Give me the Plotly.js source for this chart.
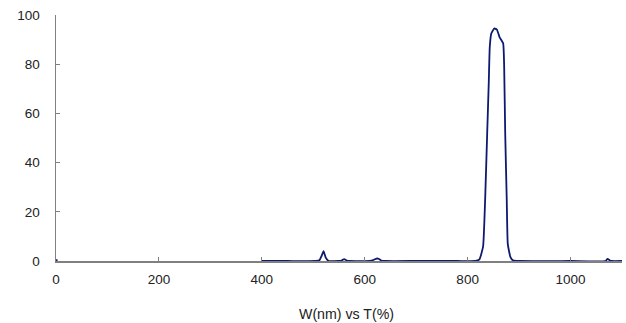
<!DOCTYPE html>
<html>
<head>
<meta charset="utf-8">
<script src="https://cdn.plot.ly/plotly-3.0.1.min.js"></script>
<style>html,body{margin:0;padding:0;background:#fff;}#chart{width:626px;height:323px;}</style>
</head>
<body>
<div id="chart"></div>
<script>
// Wavelength (nm) and transmission (%)
const wavelength = [0, 3, null,
  400, 450, 505, 512, 516, 520, 524, 530, 550, 556, 560, 564, 570, 610, 618, 623, 628, 632, 640,
  700, 780, 815, 823, 830, 834, 838, 841, 843, 846, 852, 857, 862, 869, 871, 873, 876, 878, 883, 888,
  900, 1000, 1068, 1072, 1076, 1080, 1100];
const transmission = [0.3, 0.3, null,
  0, 0, 0, 0.3, 2, 4, 1.5, 0, 0, 0.3, 0.8, 0.3, 0, 0, 0.5, 1, 0.8, 0.2, 0,
  0, 0, 0, 0.7, 5.8, 24.8, 51.9, 72, 87, 92.5, 94.6, 94, 91, 88.5, 79, 52, 25, 7, 1.7, 0.3,
  0, 0, 0, 0.9, 0.3, 0, 0];
const xTicks = [0, 200, 400, 600, 800, 1000];
const yTicks = [0, 20, 40, 60, 80, 100];
const xLabel = "W(nm) vs T(%)";

const trace = {
  x: wavelength, y: transmission, type: 'scatter', mode: 'lines',
  connectgaps: false,
  line: {color: '#0d1a6e', width: 1.8, shape: 'spline', smoothing: 0.4},
  hoverinfo: 'skip'
};

const axisCommon = {
  showgrid: false, zeroline: false, showline: true,
  linecolor: '#808080', linewidth: 1.5,
  ticks: 'inside', ticklen: 4, tickcolor: '#808080', tickwidth: 1,
  tickfont: {family: 'Liberation Sans, Arial, sans-serif', size: 13.5, color: '#222'}
};

const layout = {
  width: 626, height: 323,
  margin: {l: 56, r: 4, t: 15, b: 62},
  paper_bgcolor: '#fff', plot_bgcolor: '#fff',
  showlegend: false,
  xaxis: Object.assign({}, axisCommon, {
    range: [0, 1100], tickvals: xTicks, ticktext: xTicks.map(String),
    ticklabelstandoff: 5
  }),
  yaxis: Object.assign({}, axisCommon, {
    range: [0, 100], tickvals: yTicks, ticktext: yTicks.map(String),
    ticklabelstandoff: 12
  }),
  annotations: [{
    text: xLabel, xref: 'paper', yref: 'paper', x: 0.514, y: 0,
    yshift: -53, showarrow: false, xanchor: 'center', yanchor: 'middle',
    font: {family: 'Liberation Sans, Arial, sans-serif', size: 14.2, color: '#222'}
  }]
};

Plotly.newPlot('chart', [trace], layout, {displayModeBar: false, staticPlot: true});
</script>
</body>
</html>
